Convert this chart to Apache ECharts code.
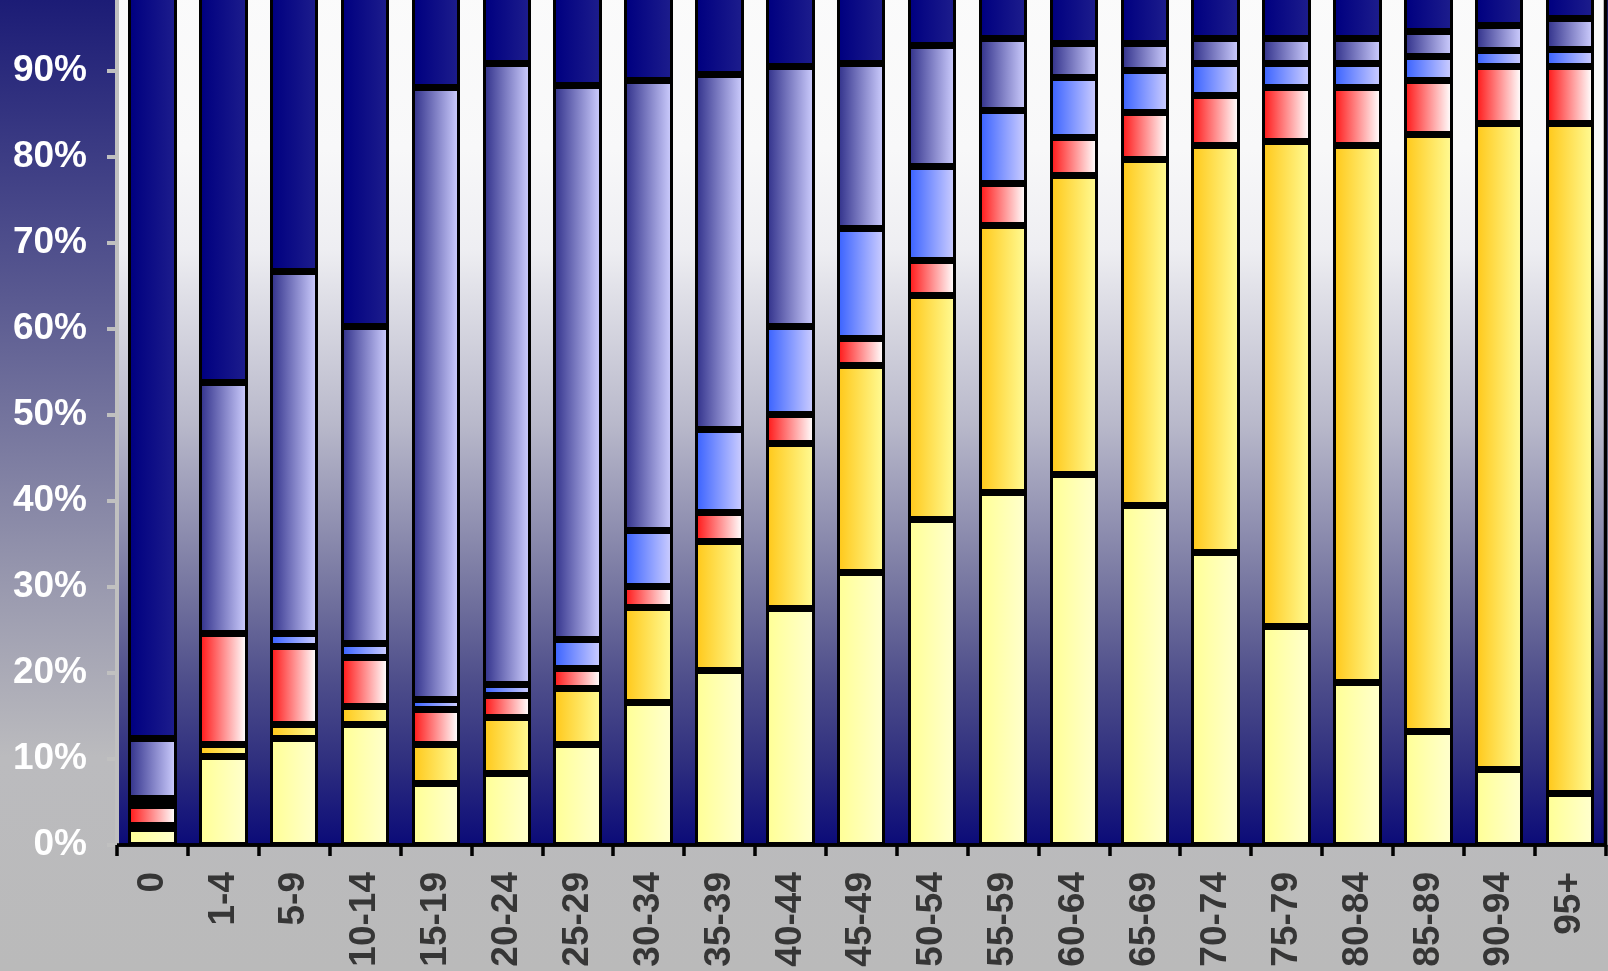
<!DOCTYPE html>
<html>
<head>
<meta charset="utf-8">
<script src="https://cdn.jsdelivr.net/npm/echarts@6/dist/echarts.min.js"></script>
<style>
  html, body { margin: 0; padding: 0; width: 1608px; height: 971px; overflow: hidden; }
  body {
    background: linear-gradient(to bottom, #1c1c76 0px, #585890 290px, #9c9cb0 600px, #bbbbbe 757px, #bababa 971px);
  }
  #chart { width: 1608px; height: 971px; }
</style>
</head>
<body>
<div id="chart"></div>
<script>
// Age groups along the horizontal axis
const categories = ['0', '1-4', '5-9', '10-14', '15-19', '20-24', '25-29', '30-34', '35-39', '40-44',
  '45-49', '50-54', '55-59', '60-64', '65-69', '70-74', '75-79', '80-84', '85-89', '90-94', '95+'];

// Share (%) of each group, stacked from the bottom up
const paleYellow = [2.0, 10.4, 12.5, 14.1, 7.2, 8.4, 11.7, 16.6, 20.3, 27.6, 31.7, 37.9, 41.1, 43.1, 39.5, 34.1, 25.5, 19.0, 13.3, 8.8, 6.0];
const gold       = [0.3, 1.3, 1.6, 2.1, 4.5, 6.5, 6.5, 11.1, 15.1, 19.2, 24.1, 26.0, 31.0, 34.8, 40.3, 47.3, 56.4, 62.4, 69.4, 75.1, 77.9];
const red        = [2.4, 13.0, 9.0, 5.7, 4.1, 2.5, 2.4, 2.4, 3.3, 3.3, 3.2, 4.1, 4.9, 4.4, 5.4, 5.8, 6.2, 6.7, 6.2, 6.7, 6.7];
const blue       = [0.8, 0, 1.6, 1.6, 1.2, 1.3, 3.3, 6.5, 9.7, 10.2, 12.7, 11.0, 8.5, 7.0, 4.9, 3.7, 2.8, 2.8, 2.8, 1.9, 1.9];
const lavender   = [7.0, 29.1, 42.1, 36.8, 71.1, 72.2, 64.5, 52.3, 41.3, 30.3, 19.2, 14.0, 8.3, 4.0, 3.2, 2.9, 2.9, 2.9, 2.9, 2.9, 3.7];
const navy       = [87.5, 46.2, 33.2, 39.7, 11.9, 9.1, 11.6, 11.1, 10.3, 9.4, 9.1, 7.0, 6.2, 6.7, 6.7, 6.2, 6.2, 6.2, 5.4, 4.6, 3.8];

// Value axis ticks
const yMin = 0, yMax = 100, yStep = 10;

const layers = [
  { name: 'paleYellow', values: paleYellow, from: '#ffff98', to: '#ffffcc' },
  { name: 'gold',       values: gold,       from: '#ffca1e', to: '#fff990' },
  { name: 'red',        values: red,        from: '#ff2020', to: '#fffafa' },
  { name: 'blue',       values: blue,       from: '#3f66ff', to: '#c8caff' },
  { name: 'lavender',   values: lavender,   from: '#37378f', to: '#c8c8fa' },
  { name: 'navy',       values: navy,       from: '#000080', to: '#1c1c8c' }
];

const FONT = "'Liberation Sans', Arial, sans-serif";
const BAR_RATIO = 0.684;   // bar width relative to category width
const SIDE = 3;            // black side border width
const CAP_TOP = 4;         // black border at the top of each segment
const CAP_BOTTOM = 3;      // black border at the bottom of each segment

// Running totals so every segment sits on the ones below it
const running = categories.map(() => 0);
const series = layers.map(layer => {
  const data = layer.values.map((v, i) => {
    const lo = running[i];
    running[i] += v;
    return [i, lo, running[i]];
  });
  const fill = new echarts.graphic.LinearGradient(0, 0, 1, 0, [
    { offset: 0, color: layer.from },
    { offset: 1, color: layer.to }
  ]);
  return {
    type: 'custom',
    name: layer.name,
    encode: { x: 0, y: [1, 2] },
    data: data,
    renderItem: function (params, api) {
      const i = api.value(0), lo = api.value(1), hi = api.value(2);
      if (!(hi > lo)) return;
      const p0 = api.coord([i, lo]);
      const p1 = api.coord([i, hi]);
      const w = api.size([1, 0])[0] * BAR_RATIO;
      const xl = Math.round(p0[0] - w / 2);
      const xr = Math.round(p0[0] + w / 2);
      const yt = Math.round(p1[1]);
      const yb = Math.round(p0[1]);
      const children = [{
        type: 'rect',
        shape: { x: xl, y: yt, width: xr - xl, height: yb - yt },
        style: { fill: '#000' }
      }];
      const ih = yb - yt - CAP_TOP - CAP_BOTTOM;
      if (ih > 0) {
        children.push({
          type: 'rect',
          shape: { x: xl + SIDE, y: yt + CAP_TOP, width: xr - xl - 2 * SIDE, height: ih },
          style: { fill: fill }
        });
      }
      return { type: 'group', children: children };
    }
  };
});

const chart = echarts.init(document.getElementById('chart'), null, { renderer: 'canvas' });
chart.setOption({
  backgroundColor: 'transparent',
  animation: false,
  grid: {
    left: 117, right: 2.5, top: -15, bottom: 126,
    containLabel: false,
    outerBoundsMode: 'none',
    show: true,
    borderColor: '#000',
    borderWidth: 3.5,
    backgroundColor: new echarts.graphic.LinearGradient(0, 0, 0, 1, [
      { offset: 0,     color: '#fbfbfb' },
      { offset: 0.192, color: '#f8f8f9' },
      { offset: 0.308, color: '#eeeef2' },
      { offset: 0.366, color: '#dedee6' },
      { offset: 0.512, color: '#b8b8ca' },
      { offset: 0.706, color: '#74749f' },
      { offset: 0.802, color: '#50508c' },
      { offset: 0.899, color: '#30307f' },
      { offset: 1,     color: '#0a0a78' }
    ])
  },
  xAxis: {
    type: 'category',
    data: categories,
    boundaryGap: true,
    axisLine: { show: true, lineStyle: { color: '#000', width: 3.5 } },
    axisTick: { show: true, length: 11, lineStyle: { color: '#000', width: 3.5 } },
    splitLine: { show: false },
    axisLabel: {
      rotate: 90,
      margin: 27,
      interval: 0,
      color: '#363636',
      fontSize: 37,
      fontWeight: 'bold',
      fontFamily: FONT
    }
  },
  yAxis: {
    type: 'value',
    min: yMin,
    max: yMax,
    interval: yStep,
    axisLine: { show: true, lineStyle: { color: '#c0c0c0', width: 4 } },
    axisTick: { show: true, length: 10, lineStyle: { color: '#c0c0c0', width: 4 } },
    splitLine: { show: false },
    axisLabel: {
      formatter: '{value}%',
      margin: 30,
      color: '#ffffff',
      fontSize: 37,
      fontWeight: 'bold',
      fontFamily: FONT
    }
  },
  series: series
});
</script>
</body>
</html>
